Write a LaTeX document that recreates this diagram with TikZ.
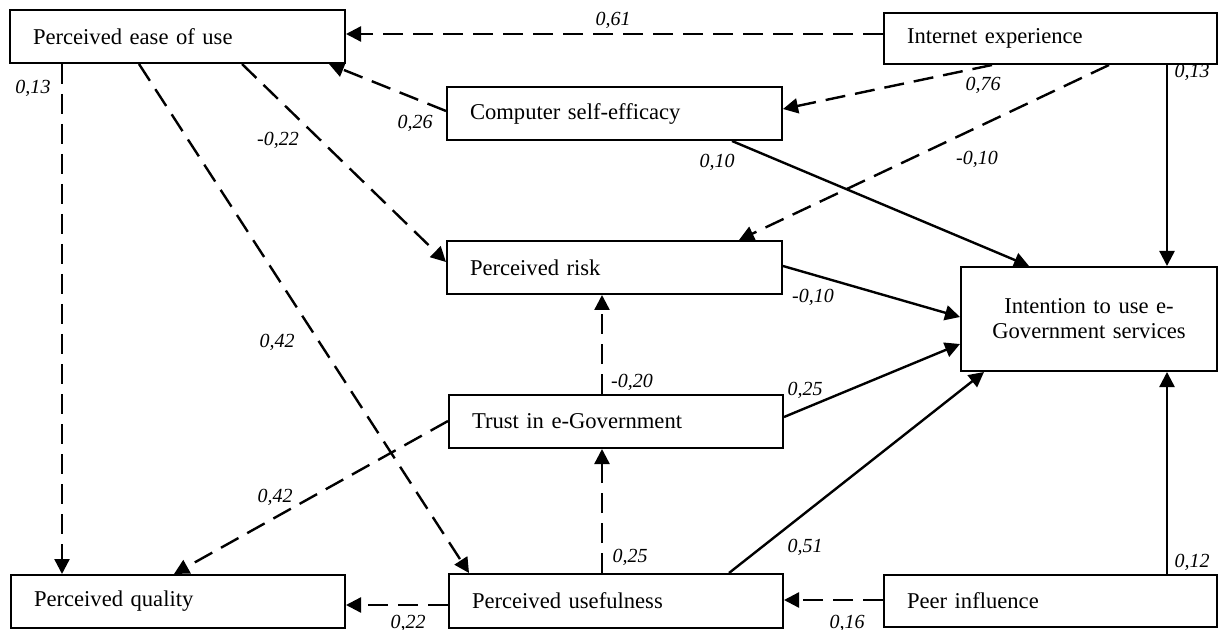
\documentclass[tikz,border=0pt]{standalone}
\usepackage{fontspec}
\setmainfont{Liberation Serif}
\usetikzlibrary{calc,arrows.meta}
\begin{document}
\begin{tikzpicture}[x=0.5pt,y=-0.5pt,
  box/.style={draw, line width=1pt, inner xsep=11.5pt, inner ysep=0pt, align=left,
    font=\fontsize{11.3}{13.5}\selectfont},
  conn/.style={line width=1.2pt, -{Triangle[length=7.5pt,width=7.5pt]}},
  dsh/.style={conn, dash pattern=on 10pt off 5pt},
  lbl/.style={inner sep=0pt, font=\fontsize{10}{12}\selectfont\itshape}]
\useasboundingbox (0,0) rectangle (1219,630);

% boxes
\node[box, text width=144.5pt, minimum height=26.5pt] (peou) at (177.5,36.5) {Perceived ease of use};
\node[box, text width=143.5pt, minimum height=25.5pt] (inet) at (1050.5,38.5) {Internet experience};
\node[box, text width=144.5pt, minimum height=26.5pt] (cse) at (614.5,113.5) {Computer self-efficacy};
\node[box, text width=144.5pt, minimum height=26.5pt] (risk) at (614.5,267.5) {Perceived risk};
\node[box, inner xsep=4pt, text width=120pt, minimum height=52pt, align=center,
  font=\fontsize{11.3}{12.5}\selectfont] (intent) at (1089,319) {Intention to use e-\\Government services};
\node[box, text width=144pt, minimum height=26.5pt] (trust) at (616,421.5) {Trust in e-Government};
\node[box, text width=144pt, minimum height=26.5pt] (qual) at (178,601.5) {Perceived quality};
\node[box, text width=144pt, minimum height=27pt] (useful) at (616,601) {Perceived usefulness};
\node[box, text width=143.5pt, minimum height=26pt] (peer) at (1050.5,601) {Peer influence};

% helper coordinates
\coordinate (vA) at (62,0);
\coordinate (vB) at (602,0);
\coordinate (vC) at (1167,0);
\coordinate (hA) at (0,34);
\coordinate (hB) at (0,605);
\coordinate (hC) at (0,600);

% connectors
\draw[dsh] (inet.west |- hA) -- (peou.east |- hA);
\draw[dsh] ($(cse.north west)+(0,25)$) -- ($(peou.south west)+(320,0)$);
\draw[dsh] ($(inet.south west)+(109,0)$) -- ($(cse.north east)+(0,23)$);
\draw[dsh] ($(inet.south west)+(226,0)$) -- ($(risk.north west)+(293,0)$);
\draw[conn] ($(cse.south west)+(286,0)$) -- ($(intent.north west)+(69,0)$);
\draw[conn] (inet.south -| vC) -- (intent.north -| vC);
\draw[dsh] (peou.south -| vA) -- (qual.north -| vA);
\draw[dsh] ($(peou.south west)+(130,0)$) -- ($(useful.north west)+(21,0)$);
\draw[dsh] ($(peou.south west)+(233,0)$) -- ($(risk.north west)+(0,22)$);
\draw[conn] ($(risk.north east)+(0,26)$) -- ($(intent.north west)+(0,51)$);
\draw[dsh] (trust.north -| vB) -- (risk.south -| vB);
\draw[conn] ($(trust.north east)+(0,23)$) -- ($(intent.north west)+(0,78)$);
\draw[dsh] ($(trust.north west)+(0,27)$) -- ($(qual.north west)+(164,0)$);
\draw[dsh] (useful.north -| vB) -- (trust.south -| vB);
\draw[conn] ($(useful.north west)+(281,0)$) -- ($(intent.south west)+(24,0)$);
\draw[dsh] (useful.west |- hB) -- (qual.east |- hB);
\draw[dsh] (peer.west |- hC) -- (useful.east |- hC);
\draw[conn] (peer.north -| vC) -- (intent.south -| vC);

% labels
\node[lbl] (l1) at (613,20) {0,61};
\node[lbl] (l2) at (415,123) {0,26};
\node[lbl] (l3) at (983,85) {0,76};
\node[lbl] (l4) at (977,159) {-0,10};
\node[lbl] (l5) at (717,162) {0,10};
\node[lbl] (l6) at (1192,72) {0,13};
\node[lbl] (l7) at (33,88) {0,13};
\node[lbl] (l8) at (277,342) {0,42};
\node[lbl] (l9) at (278,140) {-0,22};
\node[lbl] (l10) at (813,297) {-0,10};
\node[lbl] (l11) at (632,382) {-0,20};
\node[lbl] (l12) at (805,390) {0,25};
\node[lbl] (l13) at (275,497) {0,42};
\node[lbl] (l14) at (630,557) {0,25};
\node[lbl] (l15) at (805,547) {0,51};
\node[lbl] (l16) at (408,623) {0,22};
\node[lbl] (l17) at (847,623) {0,16};
\node[lbl] (l18) at (1192,562) {0,12};
\end{tikzpicture}
\end{document}
